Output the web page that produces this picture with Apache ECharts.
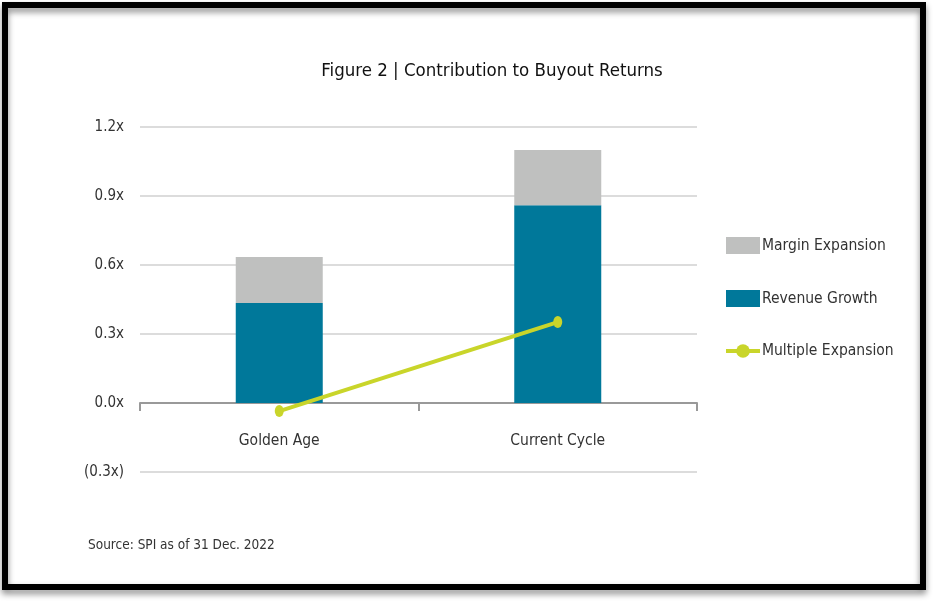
<!DOCTYPE html>
<html>
<head>
<meta charset="utf-8">
<title>Figure 2 | Contribution to Buyout Returns</title>
<script src="https://cdn.jsdelivr.net/npm/echarts@6/dist/echarts.min.js"></script>
<style>
    html, body { margin: 0; padding: 0; background: #fff; }
    #chart { width: 937px; height: 604px; }
</style>
</head>
<body>
<div id="chart"></div>
<script>
var categories = ['Golden Age', 'Current Cycle'];
var revenueGrowth = [0.435, 0.86];
var marginExpansion = [0.20, 0.24];
var multipleExpansion = [-0.035, 0.352];
var yTicks = [-0.3, 0, 0.3, 0.6, 0.9, 1.2];
var yTickLabels = ['(0.3x)', '0.0x', '0.3x', '0.6x', '0.9x', '1.2x'];

var font = "'Liberation Sans Narrow', 'DejaVu Sans Condensed', 'Open Sans', sans-serif";

function tickLabel(v) {
    for (var i = 0; i < yTicks.length; i++) {
        if (Math.abs(yTicks[i] - v) < 1e-6) return yTickLabels[i];
    }
    return '';
}

var chart = echarts.init(document.getElementById('chart'), null, { renderer: 'canvas' });

var option = {
    backgroundColor: '#fff',
    animation: false,
    textStyle: { fontFamily: font },
    title: {
        text: 'Figure 2 | Contribution to Buyout Returns',
        left: 487,
        top: 57,
        textAlign: 'center',
        textStyle: { fontFamily: font, fontSize: 18.5, fontWeight: 'normal', color: '#111' }
    },
    graphic: [
        {
            type: 'rect',
            shape: { x: 5, y: 5, width: 918, height: 582 },
            style: {
                fill: 'none', stroke: '#000', lineWidth: 6,
                shadowBlur: 6, shadowOffsetY: 4, shadowColor: 'rgba(0,0,0,0.45)'
            },
            z: 100
        },
        {
            type: 'text',
            left: 88,
            top: 538,
            style: { text: 'Source: SPI as of 31 Dec. 2022', fontFamily: font, fontSize: 13.5, fill: '#333' }
        }
    ],
    legend: {
        orient: 'vertical',
        left: 719,
        top: 232,
        itemWidth: 34,
        itemHeight: 17,
        itemGap: 36,
        data: [
            { name: 'Margin Expansion', icon: 'rect' },
            { name: 'Revenue Growth', icon: 'rect' },
            { name: 'Multiple Expansion', lineStyle: { width: 4 } }
        ],
        textStyle: { fontFamily: font, fontSize: 15.5, color: '#333', padding: [0, 0, 0, -3] }
    },
    grid: { left: 140, right: 240, top: 127, bottom: 132 },
    xAxis: {
        type: 'category',
        data: categories,
        offset: -69,
        axisLine: { onZero: false, lineStyle: { color: '#999', width: 2 } },
        axisTick: { show: true, length: 8, lineStyle: { color: '#999', width: 2 } },
        axisLabel: { margin: 30, fontFamily: font, fontSize: 15.5, color: '#333' }
    },
    yAxis: {
        type: 'value',
        min: -0.3,
        max: 1.2,
        interval: 0.3,
        axisLine: { show: false },
        axisTick: { show: false },
        splitLine: { lineStyle: { color: '#dcdcdc', width: 2 } },
        axisLabel: {
            margin: 16,
            fontFamily: font, fontSize: 15, color: '#333',
            formatter: tickLabel
        }
    },
    series: [
        {
            name: 'Revenue Growth',
            type: 'bar',
            stack: 'total',
            barWidth: 87,
            data: revenueGrowth,
            itemStyle: { color: '#00789a' }
        },
        {
            name: 'Margin Expansion',
            type: 'bar',
            stack: 'total',
            barWidth: 87,
            data: marginExpansion,
            itemStyle: { color: '#bfc0bf' }
        },
        {
            name: 'Multiple Expansion',
            type: 'line',
            data: multipleExpansion,
            symbol: 'circle',
            symbolSize: [9, 12],
            z: 5,
            lineStyle: { color: '#c9d52a', width: 4 },
            itemStyle: { color: '#c9d52a' }
        }
    ]
};

chart.setOption(option);
</script>
</body>
</html>
